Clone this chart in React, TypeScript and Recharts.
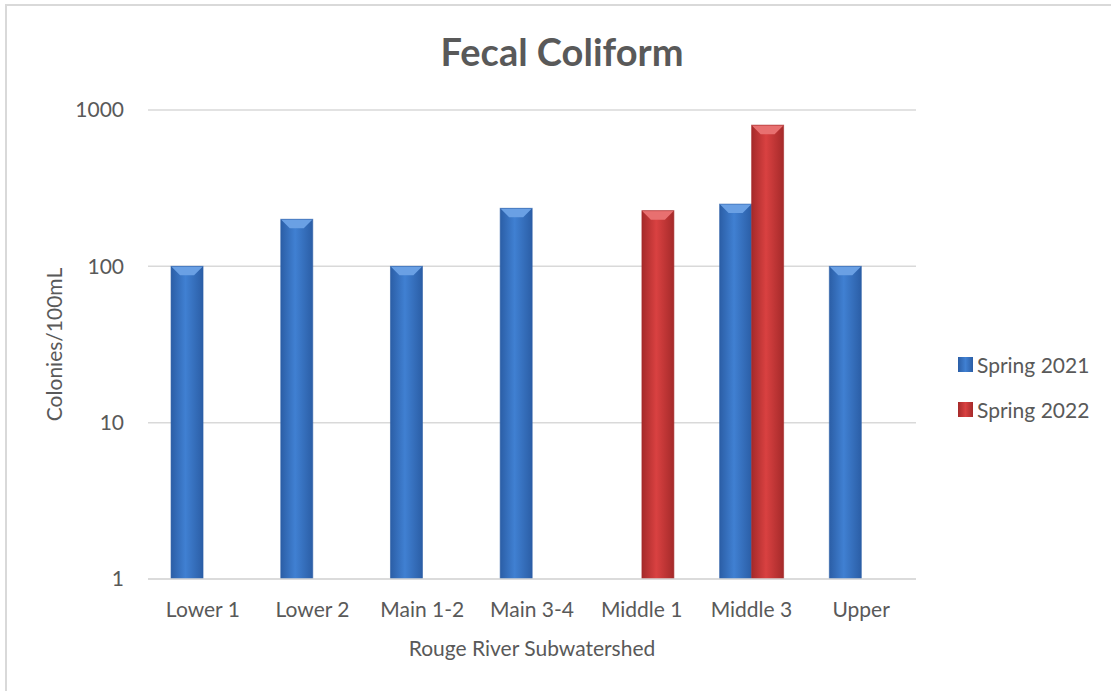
import { BarChart, Bar, XAxis, YAxis, CartesianGrid } from 'recharts';

const subwatersheds = ['Lower 1', 'Lower 2', 'Main 1-2', 'Main 3-4', 'Middle 1', 'Middle 3', 'Upper'];
const spring2021 = [100, 200, 100, 235, null, 250, 100];
const spring2022 = [null, null, null, null, 227, 800, null];
const yTicks = [1, 10, 100, 1000];

const data = subwatersheds.map((name, i) => ({
  name,
  s2021: spring2021[i],
  s2022: spring2022[i],
}));

const FONT = 'Lato, "Open Sans", sans-serif';
const TEXT = '#595959';

const palette = {
  blue: { edge: '#2b5ea6', mid: '#4080d2', top: '#6aa0e4' },
  red: { edge: '#a52a2a', mid: '#d94141', top: '#e87070' },
};

function bevelBar(kind: 'blue' | 'red') {
  return (props: any) => {
    const { x, y, width, height } = props;
    if (height == null || height <= 0 || width <= 0) return <g />;
    const c = palette[kind];
    const b = Math.min(9, width / 3, height / 2);
    return (
      <g>
        <rect x={x} y={y} width={width} height={height} fill={`url(#grad-${kind})`} />
        <polygon
          points={`${x},${y} ${x + width},${y} ${x + width - b},${y + b} ${x + b},${y + b}`}
          fill={c.top}
        />
        <rect x={x} y={y} width={width} height={height} fill="none" stroke={c.edge} strokeOpacity={0.6} strokeWidth={1} />
      </g>
    );
  };
}

function LegendBox() {
  const items = [
    { label: 'Spring 2021', kind: 'blue' as const },
    { label: 'Spring 2022', kind: 'red' as const },
  ];
  return (
    <div
      style={{
        position: 'absolute',
        left: 958,
        top: 342,
        fontFamily: FONT,
        fontSize: 21,
        color: TEXT,
      }}
    >
      {items.map((it) => (
        <div key={it.label} style={{ display: 'flex', alignItems: 'center', height: 45 }}>
          <span
            style={{
              display: 'inline-block',
              width: 15,
              height: 15,
              marginRight: 4,
              background: `linear-gradient(90deg, ${palette[it.kind].edge}, ${palette[it.kind].mid}, ${palette[it.kind].edge})`,
            }}
          />
          {it.label}
        </div>
      ))}
    </div>
  );
}

export default function App() {
  return (
    <div
      style={{
        position: 'absolute',
        left: 0,
        top: 0,
        width: 1111,
        height: 691,
        background: '#fff',
        overflow: 'hidden',
      }}
    >
      <div
        style={{
          position: 'absolute',
          left: 5,
          top: 4,
          width: 1111,
          height: 700,
          border: '2px solid #d9d9d9',
          boxSizing: 'border-box',
        }}
      />
      <div
        style={{
          position: 'absolute',
          left: 0,
          top: 28,
          width: 1124,
          textAlign: 'center',
          fontFamily: FONT,
          fontWeight: 700,
          fontSize: 38,
          color: TEXT,
        }}
      >
        Fecal Coliform
      </div>
      <BarChart
        width={1111}
        height={691}
        data={data}
        margin={{ top: 110, right: 195, bottom: 35, left: 0 }}
        barCategoryGap="21%"
        barGap={0}
        style={{ position: 'absolute', left: 0, top: 0 }}
      >
        <defs>
          {(['blue', 'red'] as const).map((k) => (
            <linearGradient key={k} id={`grad-${k}`} x1="0" y1="0" x2="1" y2="0">
              <stop offset="0%" stopColor={palette[k].edge} />
              <stop offset="45%" stopColor={palette[k].mid} />
              <stop offset="100%" stopColor={palette[k].edge} />
            </linearGradient>
          ))}
        </defs>
        <CartesianGrid vertical={false} stroke="#d9d9d9" strokeWidth={1.5} />
        <XAxis
          dataKey="name"
          height={77}
          axisLine={{ stroke: '#d9d9d9', strokeWidth: 1.5 }}
          tickLine={false}
          tickMargin={17}
          tick={{ fill: TEXT, fontSize: 21, fontFamily: FONT }}
          interval={0}
          label={{
            value: 'Rouge River Subwatershed',
            position: 'insideBottom',
            offset: 0,
            fill: TEXT,
            fontSize: 21,
            fontFamily: FONT,
          }}
        />
        <YAxis
          scale="log"
          domain={[1, 1000]}
          ticks={yTicks}
          allowDataOverflow
          width={148}
          axisLine={false}
          tickLine={false}
          tickMargin={18}
          tick={{ fill: TEXT, fontSize: 21, fontFamily: FONT }}
          label={{
            value: 'Colonies/100mL',
            angle: -90,
            position: 'insideLeft',
            offset: 55,
            style: { textAnchor: 'middle' },
            fill: TEXT,
            fontSize: 21,
            fontFamily: FONT,
          }}
        />
        <Bar dataKey="s2021" name="Spring 2021" shape={bevelBar('blue')} isAnimationActive={false} />
        <Bar dataKey="s2022" name="Spring 2022" shape={bevelBar('red')} isAnimationActive={false} />
      </BarChart>
      <LegendBox />
    </div>
  );
}
